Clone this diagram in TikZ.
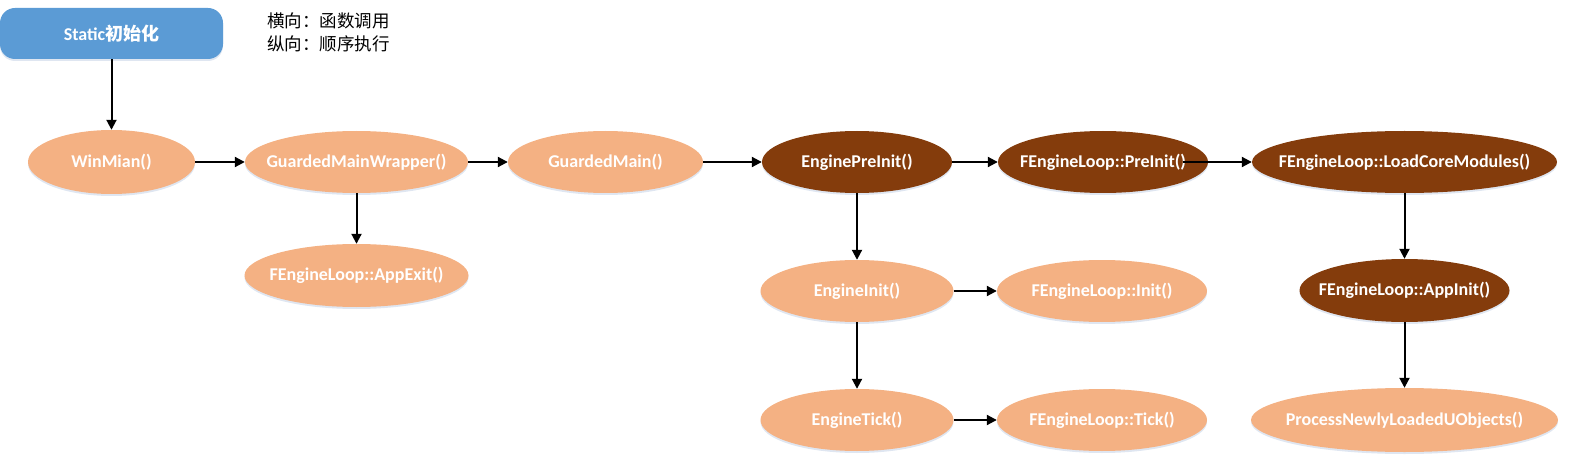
\documentclass[tikz,border=0pt]{standalone}
\usepackage{fontspec}
\setmainfont{Carlito}
\newfontfamily\cjk{Noto Sans CJK SC}
\usetikzlibrary{shapes.geometric,arrows.meta,shadows}
\definecolor{peach}{HTML}{F4B183}
\definecolor{brownD}{HTML}{843C0C}
\definecolor{blueS}{HTML}{5B9BD5}
\definecolor{shadowc}{HTML}{C9D6E8}
\tikzset{
  base/.style={draw=none, inner sep=0pt, text=white,
    font=\fontsize{18}{21}\selectfont\bfseries,
    drop shadow={shadow xshift=0pt, shadow yshift=-2pt, opacity=.6, fill=shadowc}},
  light/.style={base, ellipse, fill=peach, minimum width=210pt, minimum height=62pt},
  dark/.style={base, ellipse, fill=brownD, minimum width=210pt, minimum height=62pt},
  startbox/.style={base, rectangle, rounded corners=15pt, fill=blueS},
  conn/.style={line width=2pt, -{Triangle[length=10pt,width=10pt]}},
}
\begin{document}
\begin{tikzpicture}[x=1pt,y=-1pt]
\useasboundingbox (0,0) rectangle (1571,465);
% start box and legend
\node[startbox, minimum width=223pt, minimum height=51pt] (st) at (111.5,33.5)
  {\makebox[0pt]{Static{\cjk\bfseries 初始化}}};
\node[anchor=west, align=left, inner sep=0pt, font=\cjk\fontsize{17.5}{23}\selectfont] (legend) at (267,32)
  {横向：函数调用\\纵向：顺序执行};
% row 1
\node[light, minimum width=167pt, minimum height=64pt] (win) at (111.5,162) {\makebox[0pt]{WinMian()}};
\node[light, minimum width=223pt] (gmw) at (356.5,162) {\makebox[0pt]{GuardedMainWrapper()}};
\node[light, minimum width=195pt] (gm) at (605.5,162) {\makebox[0pt]{GuardedMain()}};
\node[dark, minimum width=190pt] (epi) at (857,162) {\makebox[0pt]{EnginePreInit()}};
\node[dark] (fpi) at (1103,162) {\makebox[0pt]{FEngineLoop::PreInit()}};
\node[dark, minimum width=305pt] (lcm) at (1404.5,162) {\makebox[0pt]{FEngineLoop::LoadCoreModules()}};
% lower rows
\node[light, minimum width=224pt, minimum height=63pt] (appexit) at (356.5,275.5) {\makebox[0pt]{FEngineLoop::AppExit()}};
\node[light, minimum width=193pt] (einit) at (857,291) {\makebox[0pt]{EngineInit()}};
\node[light] (finit) at (1102,291) {\makebox[0pt]{FEngineLoop::Init()}};
\node[dark, minimum height=63pt] (appinit) at (1404.5,290.5) {\makebox[0pt]{FEngineLoop::AppInit()}};
\node[light, minimum width=193pt] (etick) at (857,420) {\makebox[0pt]{EngineTick()}};
\node[light] (ftick) at (1102,420) {\makebox[0pt]{FEngineLoop::Tick()}};
\node[light, minimum width=307pt, minimum height=64pt] (proc) at (1404.5,420) {\makebox[0pt]{ProcessNewlyLoadedUObjects()}};
% connectors
\coordinate (fpiout) at (1183,162);
\draw[conn] (st) -- (win);
\draw[conn] (win) -- (gmw);
\draw[conn] (gmw) -- (gm);
\draw[conn] (gm) -- (epi);
\draw[conn] (epi) -- (fpi);
\draw[conn] (fpiout) -- (lcm);
\draw[conn] (gmw) -- (appexit);
\draw[conn] (epi) -- (einit);
\draw[conn] (einit) -- (etick);
\draw[conn] (einit) -- (finit);
\draw[conn] (etick) -- (ftick);
\draw[conn] (lcm) -- (appinit);
\draw[conn] (appinit) -- (proc);
\end{tikzpicture}
\end{document}
